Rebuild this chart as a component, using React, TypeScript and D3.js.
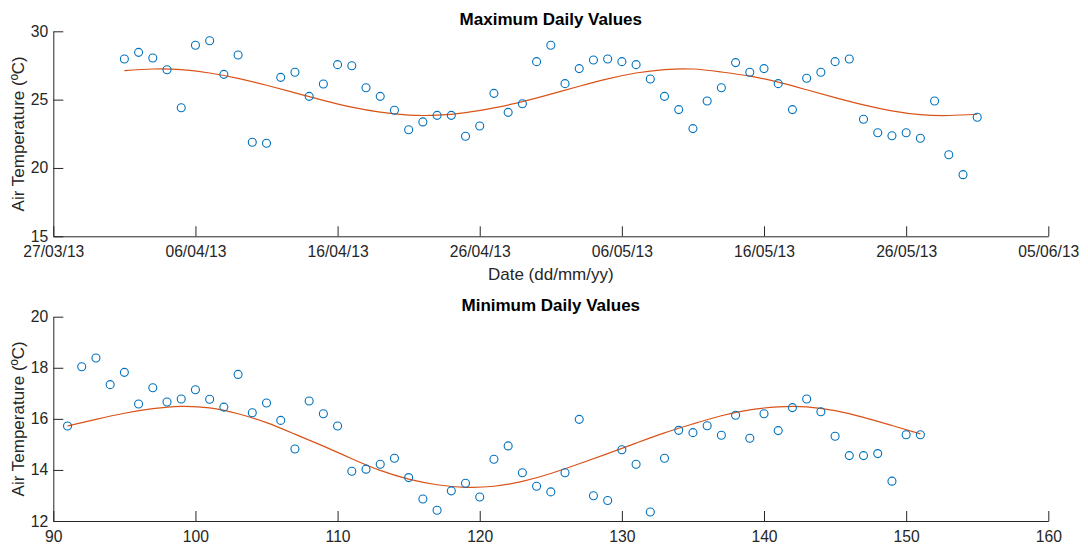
import { useEffect, useRef } from 'react';
import * as d3 from 'd3';

// day of year (2013) for each sample
const days = [
  91, 92, 93, 94, 95, 96, 97, 98, 99, 100, 101, 102, 103, 104, 105, 106, 107, 108, 109, 110,
  111, 112, 113, 114, 115, 116, 117, 118, 119, 120, 121, 122, 123, 124, 125, 126, 127, 128, 129, 130,
  131, 132, 133, 134, 135, 136, 137, 138, 139, 140, 141, 142, 143, 144, 145, 146, 147, 148, 149, 150, 151,
];

const maxTemps = [
  27.97, 28.46, 28.05, 27.19, 24.41, 28.98, 29.31, 26.85, 28.27, 21.88, 21.81, 26.63, 27.0, 25.24, 26.14, 27.56, 27.48, 25.87, 25.24, 24.22,
  22.8, 23.37, 23.85, 23.85, 22.32, 23.07, 25.46, 24.07, 24.7, 27.78, 28.98, 26.17, 27.27, 27.9, 27.97, 27.78, 27.56, 26.51, 25.24, 24.27,
  22.88, 24.9, 25.87, 27.71, 27.0, 27.27, 26.17, 24.27, 26.56, 27.0, 27.78, 27.97, 23.56, 22.58, 22.36, 22.58, 22.17, 24.9, 20.97, 19.51, 23.71,
];

const minTemps = [
  15.72, 18.04, 18.38, 17.34, 17.82, 16.58, 17.22, 16.66, 16.78, 17.14, 16.77, 16.46, 17.74, 16.24, 16.62, 15.94, 14.82, 16.7, 16.2, 15.72,
  13.95, 14.03, 14.22, 14.46, 13.7, 12.86, 12.42, 13.18, 13.48, 12.94, 14.42, 14.94, 13.89, 13.36, 13.14, 13.89, 15.98, 12.99, 12.8, 14.79,
  14.22, 12.35, 14.46, 15.55, 15.46, 15.73, 15.36, 16.14, 15.24, 16.2, 15.54, 16.44, 16.78, 16.28, 15.32, 14.56, 14.56, 14.64, 13.56, 15.38, 15.38,
];

// fitted curves, read at a few days
const fitDays = [91, 93, 95, 97, 99, 101, 103, 105, 107, 109, 111, 113, 115, 117, 119, 121, 123, 125, 127, 129, 131, 133, 135, 137, 139, 141, 143, 145, 147, 149, 151];
const maxFit = [
  27.12, 27.24, 27.2, 26.95, 26.55, 26.05, 25.5, 24.95, 24.45, 24.08, 23.87, 23.86, 24.05, 24.4, 24.85, 25.4, 25.98, 26.52, 26.95, 27.2, 27.24,
  27.02, 26.72, 26.28, 25.72, 25.15, 24.62, 24.18, 23.9, 23.84, 23.93,
];
const minFit = [
  15.72, 15.98, 16.22, 16.4, 16.49, 16.43, 16.2, 15.85, 15.4, 14.93, 14.44, 13.98, 13.64, 13.42, 13.32, 13.36, 13.55, 13.86, 14.24, 14.64, 15.05,
  15.45, 15.8, 16.12, 16.35, 16.47, 16.47, 16.32, 16.06, 15.74, 15.41,
];

const dateTicks = ['27/03/13', '06/04/13', '16/04/13', '26/04/13', '06/05/13', '16/05/13', '26/05/13', '05/06/13'];
const maxTicks = [15, 20, 25, 30];
const dayTicks = [90, 100, 110, 120, 130, 140, 150, 160];
const minTicks = [12, 14, 16, 18, 20];

const FONT = 'Arial, "Liberation Sans", Helvetica, sans-serif';
const INK = '#262626';
const BLUE = '#0072BD';
const ORANGE = '#D95319';

const parseDate = d3.utcParse('%d/%m/%y');
const dayToDate = (doy: number) => new Date(Date.UTC(2013, 0, doy));

const App = () => {
  const svgRef = useRef<SVGSVGElement>(null);

  useEffect(() => {
    const svg = d3.select(svgRef.current);
    svg.selectAll('*').remove();

    const left = 53.3;
    const right = 1048.3;

    const styleAxis = (g: any) => {
      g.selectAll('path.domain').attr('stroke', INK).attr('stroke-width', 1);
      g.selectAll('.tick line').attr('stroke', INK).attr('stroke-width', 1);
      g.selectAll('.tick text').attr('fill', INK).style('font-size', '15.7px').style('font-family', FONT);
    };

    const drawPanel = (opts: any) => {
      const { top, bottom, x, xVals, y, yTicks, xAxis, vals, fitX, fitY, title, xLabel } = opts;
      const g = svg.append('g');

      g.append('g')
        .attr('transform', `translate(0,${bottom})`)
        .call(xAxis)
        .call(styleAxis);

      g.append('g')
        .attr('transform', `translate(${left},0)`)
        .call(d3.axisLeft(y).tickValues(yTicks).tickSizeInner(-10).tickSizeOuter(0).tickPadding(5))
        .call(styleAxis);

      const line = d3.line<number>()
        .x((_, i) => x(fitX[i]))
        .y((d) => y(d))
        .curve(d3.curveNatural);

      g.append('path')
        .datum(fitY)
        .attr('fill', 'none')
        .attr('stroke', ORANGE)
        .attr('stroke-width', 1.2)
        .attr('d', line);

      g.selectAll('circle')
        .data(vals)
        .enter()
        .append('circle')
        .attr('cx', (_: any, i: number) => x(xVals[i]))
        .attr('cy', (d: number) => y(d))
        .attr('r', 4)
        .attr('fill', 'none')
        .attr('stroke', BLUE)
        .attr('stroke-width', 1.1);

      g.append('text')
        .attr('x', (left + right) / 2)
        .attr('y', top - 6)
        .attr('text-anchor', 'middle')
        .attr('fill', '#000')
        .style('font-family', FONT)
        .style('font-size', '17px')
        .style('font-weight', 'bold')
        .text(title);

      if (xLabel) {
        g.append('text')
          .attr('x', (left + right) / 2)
          .attr('y', bottom + 44)
          .attr('text-anchor', 'middle')
          .attr('fill', INK)
          .style('font-family', FONT)
          .style('font-size', '17px')
          .text(xLabel);
      }

      g.append('text')
        .attr('transform', `translate(24,${(top + bottom) / 2}) rotate(-90)`)
        .attr('text-anchor', 'middle')
        .attr('fill', INK)
        .style('font-family', FONT)
        .style('font-size', '17px')
        .text('Air Temperature (ºC)');
    };

    // top panel: maximum values against date
    const topY0 = 31.3;
    const topY1 = 236.3;
    const xDate = d3.scaleUtc()
      .domain([parseDate(dateTicks[0]), parseDate(dateTicks[dateTicks.length - 1])])
      .range([left, right]);
    const yMax = d3.scaleLinear().domain([15, 30]).range([topY1, topY0]);

    drawPanel({
      top: topY0,
      bottom: topY1,
      x: xDate,
      xVals: days.map(dayToDate),
      y: yMax,
      yTicks: maxTicks,
      xAxis: d3.axisBottom(xDate)
        .tickValues(dateTicks.map((t) => parseDate(t)))
        .tickFormat(d3.utcFormat('%d/%m/%y'))
        .tickSizeInner(-10)
        .tickSizeOuter(0)
        .tickPadding(10),
      vals: maxTemps,
      fitX: fitDays.map(dayToDate),
      fitY: maxFit,
      title: 'Maximum Daily Values',
      xLabel: 'Date (dd/mm/yy)',
    });

    // bottom panel: minimum values against day of year
    const botY0 = 316.7;
    const botY1 = 521;
    const xDay = d3.scaleLinear().domain([90, 160]).range([left, right]);
    const yMin = d3.scaleLinear().domain([12, 20]).range([botY1, botY0]);

    drawPanel({
      top: botY0,
      bottom: botY1,
      x: xDay,
      xVals: days,
      y: yMin,
      yTicks: minTicks,
      xAxis: d3.axisBottom(xDay)
        .tickValues(dayTicks)
        .tickFormat(d3.format('d'))
        .tickSizeInner(-10)
        .tickSizeOuter(0)
        .tickPadding(10),
      vals: minTemps,
      fitX: fitDays,
      fitY: minFit,
      title: 'Minimum Daily Values',
      xLabel: null,
    });
  }, []);

  return (
    <svg
      ref={svgRef}
      width={1088}
      height={547}
      style={{ position: 'absolute', left: 0, top: 0, background: '#fff' }}
    />
  );
};

export default App;
